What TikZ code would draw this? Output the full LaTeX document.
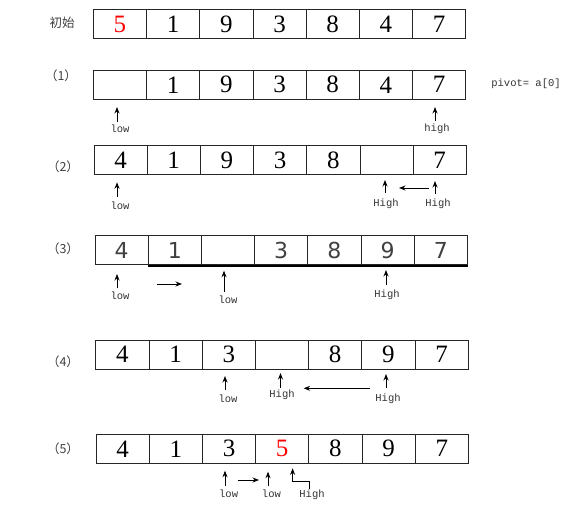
\documentclass[tikz,border=0pt]{standalone}
\usepackage{fontspec}
\setmainfont{Liberation Serif}
\newfontfamily\cjkfont{Noto Sans CJK SC}
\newfontfamily\ptrfont{Liberation Mono}
\newfontfamily\sansdigits{DejaVu Sans}
\usetikzlibrary{arrows.meta}

\tikzset{
  cell/.style={draw=black!85, line width=0.8pt, minimum width=53.2pt,
    minimum height=29.5pt, inner sep=0pt, font=\fontsize{25}{25}\selectfont},
  rowlabel/.style={font=\cjkfont\fontsize{12.5}{12.5}\selectfont, text=black!75},
  ptrlabel/.style={font=\ptrfont\fontsize{10.5}{10.5}\selectfont, text=black!80,
    inner sep=0pt, anchor=north},
  ptr/.style={-{Stealth[length=6.5pt,width=5pt]}, line width=0.9pt},
}

\begin{document}
\begin{tikzpicture}[x=1pt,y=-1pt]
	\useasboundingbox (0,0) rectangle (572,514);

	% the seven cells of each step
	\foreach \v [count=\i] in {{\color{red}5},1,9,3,8,4,7}
		\node[cell] (r0c\i) at ({119.9+53.2*(\i-1)},24) {\v};
	\foreach \v [count=\i] in {{},1,9,3,8,4,7}
		\node[cell] (r1c\i) at ({119.9+53.2*(\i-1)},84.8) {\v};
	\foreach \v [count=\i] in {4,1,9,3,8,{},7}
		\node[cell] (r2c\i) at ({120.5+53.2*(\i-1)},160) {\v};
	\foreach \v [count=\i] in {4,1,{},3,8,9,7}
		\node[cell, minimum height=28.3pt, text=black!75,
			font=\sansdigits\fontsize{22}{22}\selectfont] (r3c\i) at ({121.6+53.2*(\i-1)},250) {\v};
	\draw[line width=2pt, black] ([yshift=-1pt]r3c2.south west) -- ([yshift=-1pt]r3c7.south east);
	\foreach \v [count=\i] in {4,1,3,{},8,9,7}
		\node[cell] (r4c\i) at ({122.4+53.2*(\i-1)},354.7) {\v};
	\foreach \v [count=\i] in {4,1,3,{\color{red}5},8,9,7}
		\node[cell] (r5c\i) at ({122.6+53.2*(\i-1)},448.8) {\v};

	% step labels
	\node[rowlabel] (lab0) at (62,23) {初始};
	\node[rowlabel] (lab1) at (61,76) {（1）};
	\node[rowlabel] (lab2) at (63,166.7) {（2）};
	\node[rowlabel] (lab3) at (63,249) {（3）};
	\node[rowlabel] (lab4) at (63,361.7) {（4）};
	\node[rowlabel] (lab5) at (63,448.3) {（5）};
	\node[font=\ptrfont\fontsize{10.5}{10.5}\selectfont, text=black!80] (pivot) at (526,84) {pivot= a[0]};

	% (1)
	\node[ptrlabel] (lo1) at (120,125) {low};
	\draw[ptr] ([xshift=-3pt,yshift=3pt]lo1.north) -- ++(0,-15);
	\node[ptrlabel] (hi1) at (437,123.3) {high};
	\draw[ptr] ([xshift=-2pt,yshift=2.3pt]hi1.north) -- ++(0,-14);

	% (2)
	\node[ptrlabel] (lo2) at (120,201.7) {low};
	\draw[ptr] ([xshift=-3pt,yshift=5pt]lo2.north) -- ++(0,-14.4);
	\node[ptrlabel] (hiA2) at (386,199) {High};
	\draw[ptr] ([xshift=-1pt,yshift=6pt]hiA2.north) -- ++(0,-13);
	\node[ptrlabel] (hiB2) at (438,199) {High};
	\draw[ptr] ([xshift=-3pt,yshift=5pt]hiB2.north) -- ++(0,-13);
	\coordinate (mvA2) at (429,188);
	\coordinate (mvB2) at (399,188);
	\draw[ptr] (mvA2) -- (mvB2);

	% (3)
	\node[ptrlabel] (lo3) at (120,291.7) {low};
	\draw[ptr] ([xshift=-3pt,yshift=3.7pt]lo3.north) -- ++(0,-14);
	\node[ptrlabel] (loB3) at (228,296) {low};
	\draw[ptr] ([xshift=-4pt,yshift=4.3pt]loB3.north) -- ++(0,-21);
	\node[ptrlabel] (hi3) at (387,289.3) {High};
	\draw[ptr] ([xshift=-1pt,yshift=4.3pt]hi3.north) -- ++(0,-15);
	\coordinate (mvA3) at (156.5,284);
	\coordinate (mvB3) at (182,284);
	\draw[ptr] (mvA3) -- (mvB3);

	% (4)
	\node[ptrlabel] (lo4) at (228,395) {low};
	\draw[ptr] ([xshift=-3pt,yshift=5pt]lo4.north) -- ++(0,-14);
	\node[ptrlabel] (hiA4) at (282,389.3) {High};
	\draw[ptr] ([xshift=-1.5pt,yshift=1.3pt]hiA4.north) -- ++(0,-15);
	\node[ptrlabel] (hiB4) at (388,394) {High};
	\draw[ptr] ([xshift=-2pt,yshift=6pt]hiB4.north) -- ++(0,-14);
	\coordinate (mvA4) at (370,388.3);
	\coordinate (mvB4) at (303.6,388.3);
	\draw[ptr] (mvA4) -- (mvB4);

	% (5)
	\node[ptrlabel] (lo5) at (228.6,490) {low};
	\draw[ptr] ([xshift=-3.6pt,yshift=4pt]lo5.north) -- ++(0,-15.3);
	\node[ptrlabel] (loB5) at (271.4,490) {low};
	\draw[ptr] ([xshift=-3.4pt,yshift=4pt]loB5.north) -- ++(0,-14.3);
	\node[ptrlabel] (hi5) at (312,490) {High};
	\draw[ptr] ([xshift=-3pt,yshift=0.7pt]hi5.north) -- ++(0,-8.3) -| ++(-16.4,-12.7);
	\coordinate (mvA5) at (237.7,480);
	\coordinate (mvB5) at (259,480);
	\draw[ptr] (mvA5) -- (mvB5);

\end{tikzpicture}
\end{document}
